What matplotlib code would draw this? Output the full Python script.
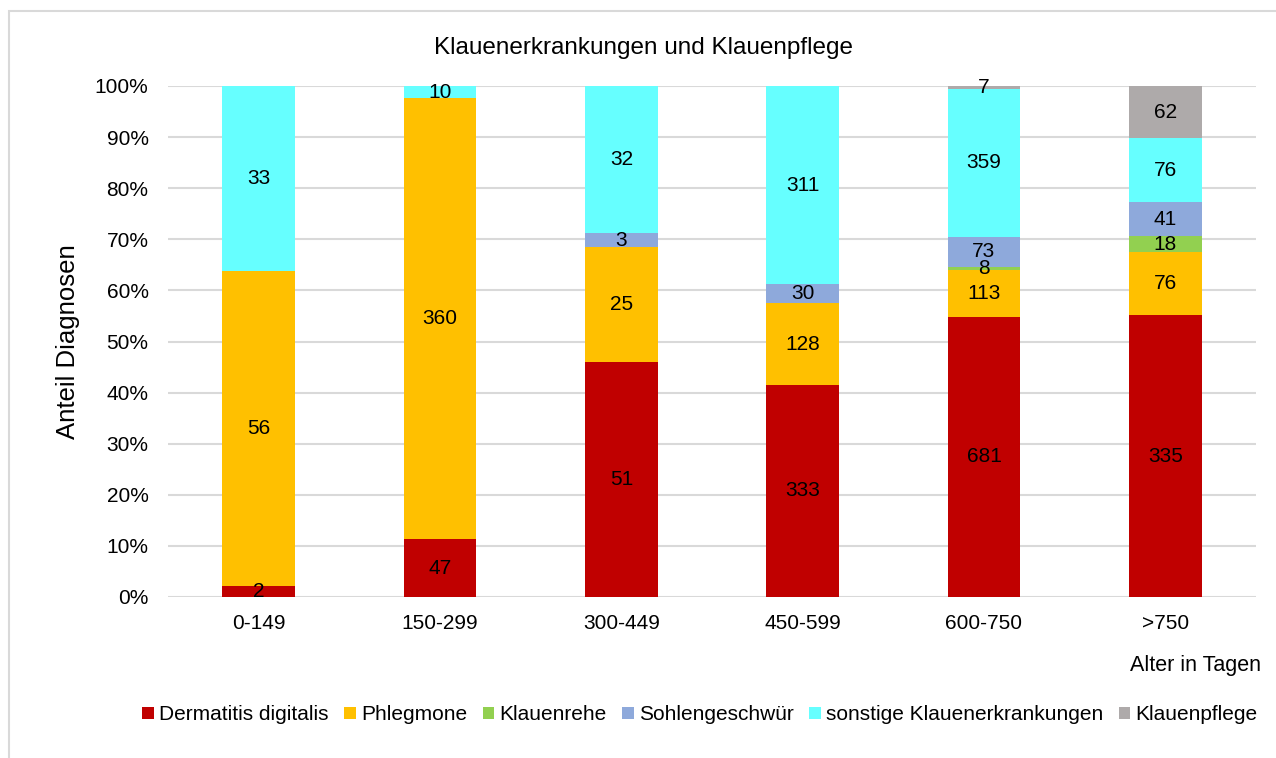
import numpy as np
import matplotlib.pyplot as plt
from matplotlib.patches import Rectangle
from matplotlib.ticker import PercentFormatter

plt.rcParams['font.family'] = ['Liberation Sans', 'DejaVu Sans']

# Altersklassen und Anzahl Diagnosen je Kategorie
altersklassen = ["0-149", "150-299", "300-449", "450-599", "600-750", ">750"]
dermatitis = [2, 47, 51, 333, 681, 335]
phlegmone = [56, 360, 25, 128, 113, 76]
klauenrehe = [0, 0, 0, 0, 8, 18]
sohlengeschwuer = [0, 0, 3, 30, 73, 41]
sonstige = [33, 10, 32, 311, 359, 76]
klauenpflege = [0, 0, 0, 0, 7, 62]

serien = [
    ("Dermatitis digitalis", dermatitis, "#C00000"),
    ("Phlegmone", phlegmone, "#FFC000"),
    ("Klauenrehe", klauenrehe, "#92D050"),
    ("Sohlengeschwür", sohlengeschwuer, "#8EA9DB"),
    ("sonstige Klauenerkrankungen", sonstige, "#66FFFF"),
    ("Klauenpflege", klauenpflege, "#AEAAAA"),
]

fig = plt.figure(figsize=(12.76, 7.58), dpi=100)
ax = fig.add_axes([168 / 1276, 1 - 597 / 758, (1256 - 168) / 1276, (597 - 86) / 758])

# Rahmen um das Diagramm
fig.patches.append(Rectangle((9 / 1276, -0.05), 1.1, 1 - 11 / 758 + 0.05,
                             transform=fig.transFigure, fill=False,
                             edgecolor="#D9D9D9", linewidth=1.5))

x = np.arange(len(altersklassen))
summe = np.sum([s[1] for s in serien], axis=0)
unten = np.zeros(len(altersklassen))

for name, werte, farbe in serien:
    werte = np.array(werte, dtype=float)
    anteil = werte / summe * 100
    ax.bar(x, anteil, bottom=unten, width=0.4, color=farbe, label=name, zorder=3)
    for xi, u, a, w in zip(x, unten, anteil, werte):
        if w > 0:
            ax.text(xi, u + a / 2, f"{int(w)}", ha="center", va="center",
                    fontsize=15, color="black", zorder=4)
    unten += anteil

ax.set_xlim(-0.5, len(altersklassen) - 0.5)
ax.set_ylim(0, 100)
ax.set_yticks(np.arange(0, 101, 10))
ax.yaxis.set_major_formatter(PercentFormatter(decimals=0))
ax.set_xticks(x)
ax.set_xticklabels(altersklassen)
ax.tick_params(axis="both", length=0, labelsize=15)
ax.tick_params(axis="y", pad=14)
ax.tick_params(axis="x", pad=12)
ax.grid(axis="y", color="#D9D9D9", linewidth=1.5, zorder=0)
for sp in ax.spines.values():
    sp.set_visible(False)

ax.set_ylabel("Anteil Diagnosen", fontsize=18.5, labelpad=11)
fig.text(644 / 1276, 1 - 48 / 758, "Klauenerkrankungen und Klauenpflege",
         ha="center", va="center", fontsize=17.5)
fig.text(1261 / 1276, 1 - 666 / 758, "Alter in Tagen", ha="right", va="center", fontsize=15.5)

fig.legend(loc="center", bbox_to_anchor=(700 / 1276, 1 - 715 / 758), ncol=6,
           frameon=False, fontsize=15, handlelength=0.55, handleheight=0.55,
           handletextpad=0.25, columnspacing=0.75)

fig.savefig("out.png", dpi=100)
